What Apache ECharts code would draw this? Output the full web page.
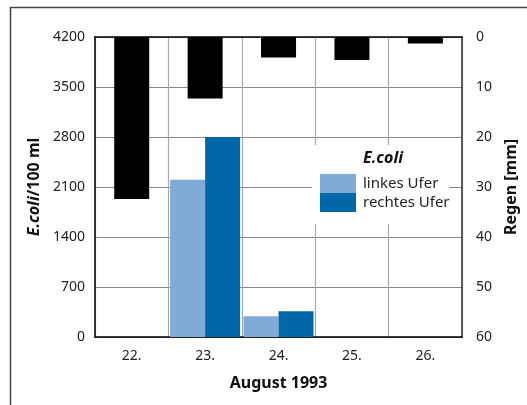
<!DOCTYPE html>
<html><head><meta charset="utf-8">
<script src="https://cdn.jsdelivr.net/npm/echarts@6/dist/echarts.min.js"></script>
<style>html,body{margin:0;padding:0;background:#fff}#c{width:527px;height:405px}</style>
</head><body><div id="c"></div>
<script>
var days = ['22.', '23.', '24.', '25.', '26.'];
var linkesUfer = [null, 2200, 290, null, null];
var rechtesUfer = [null, 2800, 360, null, null];
var regen = [32.4, 12.3, 4.1, 4.6, 1.3];
var ecoliTicks = {min: 0, max: 4200, interval: 700};
var regenTicks = {min: 0, max: 60, interval: 10};

var FONT = '"Noto Sans", sans-serif';
var chart = echarts.init(document.getElementById('c'));
chart.setOption({
  animation: false,
  textStyle: {fontFamily: FONT},
  grid: {left: 95, right: 59, top: 37, bottom: 68, containLabel: false},
  graphic: [
    {type: 'rect', z: 0, silent: true, shape: {x: 10.5, y: 7.5, width: 600, height: 500},
     style: {fill: null, stroke: '#444', lineWidth: 1.5}},
    {type: 'rect', z: 3, silent: true, shape: {x: 312, y: 145, width: 137, height: 79},
     style: {fill: '#fff'}},
    {type: 'text', z: 11, silent: true, left: 363, top: 150,
     style: {text: 'E.coli', fontFamily: FONT, fontSize: 16, fontWeight: 'bold', fontStyle: 'italic', fill: '#111'}}
  ],
  legend: {
    z: 10, orient: 'vertical', left: 320, top: 174, padding: 0,
    itemWidth: 36, itemHeight: 19, itemGap: 0, icon: 'rect',
    selectedMode: false,
    textStyle: {fontFamily: FONT, fontSize: 15, color: '#222', lineHeight: 19, padding: [0, 0, 0, 2]},
    data: ['linkes Ufer', 'rechtes Ufer']
  },
  xAxis: [
    {type: 'category', data: days, position: 'bottom',
     axisLine: {lineStyle: {color: '#000', width: 1.5}},
     axisTick: {inside: true, length: 7, lineStyle: {color: '#000', width: 1.5}},
     splitLine: {show: true, lineStyle: {color: '#aaa', width: 1.2}},
     axisLabel: {fontFamily: FONT, fontSize: 14, color: '#222', margin: 12},
     name: 'August 1993', nameLocation: 'middle', nameGap: 38,
     nameTextStyle: {fontFamily: FONT, fontSize: 16, fontWeight: 'bold', color: '#111'}},
    {type: 'category', data: days, position: 'top',
     axisLine: {lineStyle: {color: '#000', width: 1.5}},
     axisTick: {inside: true, length: 8, lineStyle: {color: '#000', width: 1.5}},
     axisLabel: {show: false}, splitLine: {show: false}}
  ],
  yAxis: [
    {type: 'value', min: ecoliTicks.min, max: ecoliTicks.max, interval: ecoliTicks.interval,
     axisLine: {show: true, lineStyle: {color: '#000', width: 1.5}},
     axisTick: {show: false},
     splitLine: {lineStyle: {color: '#888', width: 1}},
     axisLabel: {fontFamily: FONT, fontSize: 14, color: '#222', margin: 10, formatter: function (v) { return String(v); }},
     name: '{i|E.coli}{b|/100 ml}', nameLocation: 'middle', nameGap: 50, nameRotate: 90,
     nameTextStyle: {rich: {
       i: {fontFamily: FONT, fontSize: 16, fontWeight: 'bold', fontStyle: 'italic', color: '#111'},
       b: {fontFamily: FONT, fontSize: 16, fontWeight: 'bold', color: '#111'}}}},
    {type: 'value', inverse: true, position: 'right', min: regenTicks.min, max: regenTicks.max, interval: regenTicks.interval,
     axisLine: {show: true, lineStyle: {color: '#333', width: 1.5}},
     axisTick: {show: false}, splitLine: {show: false},
     axisLabel: {fontFamily: FONT, fontSize: 14, color: '#222', margin: 14, formatter: function (v) { return String(v); }},
     name: 'Regen [mm]', nameLocation: 'middle', nameGap: 38, nameRotate: 90,
     nameTextStyle: {fontFamily: FONT, fontSize: 16, fontWeight: 'bold', color: '#111'}}
  ],
  series: [
    {name: 'linkes Ufer', type: 'bar', xAxisIndex: 0, yAxisIndex: 0, data: linkesUfer,
     barWidth: 35, barGap: '0%', itemStyle: {color: '#7fabd6'}, z: 2},
    {name: 'rechtes Ufer', type: 'bar', xAxisIndex: 0, yAxisIndex: 0, data: rechtesUfer,
     barWidth: 35, barGap: '0%', itemStyle: {color: '#0067a9'}, z: 2},
    {name: 'Regen', type: 'bar', xAxisIndex: 1, yAxisIndex: 1, data: regen,
     barWidth: 35, itemStyle: {color: '#000'}, z: 2}
  ]
});
</script></body></html>
